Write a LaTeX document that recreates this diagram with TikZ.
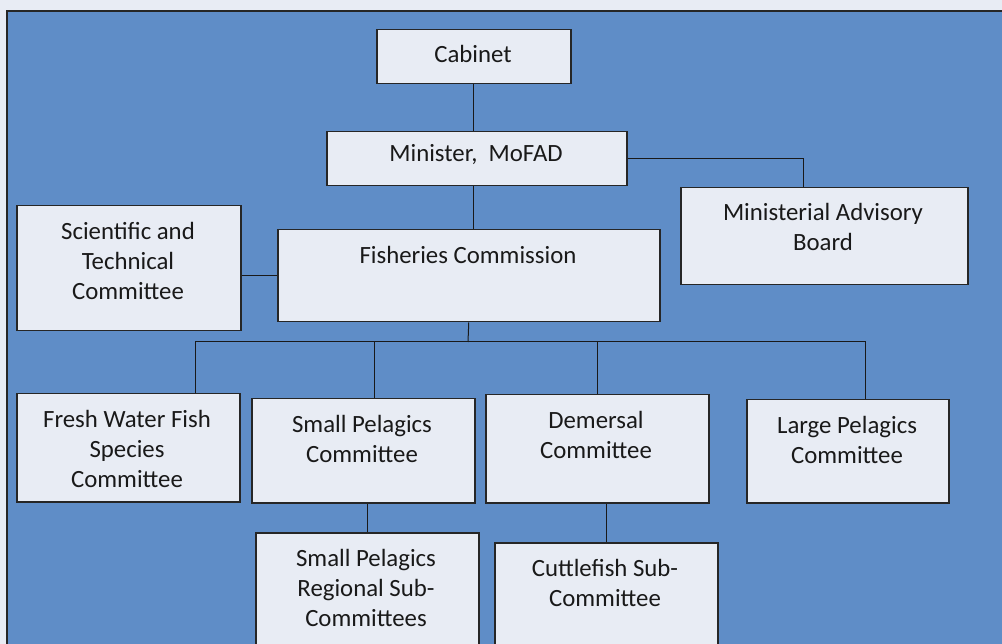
\documentclass[tikz,border=0pt]{standalone}
\usepackage{fontspec}
\setmainfont{Carlito}
\usepackage{tikz}
\definecolor{pagegray}{HTML}{E8ECF4}
\definecolor{chartblue}{HTML}{5F8DC7}
\definecolor{boxfill}{HTML}{E8ECF4}
\definecolor{edgegray}{HTML}{262626}

\begin{document}
\begin{tikzpicture}[x=1pt, y=-1pt,
        box/.style={rectangle, draw=edgegray, line width=1.5pt, fill=boxfill, inner sep=0pt, anchor=north west},
        lbl/.style={font=\fontsize{24.8}{30}\selectfont, align=center, text=black!90, inner sep=0pt},
        link/.style={draw=black!90, line width=1pt}]
        % Page and panel
        \clip (0,0) rectangle (1002,644);
        \fill[pagegray] (0,0) rectangle (1002,644);
        \fill[chartblue] (7,11) rectangle (1012,660);
        \draw[edgegray, line width=2pt] (7,660) -- (7,11) -- (1012,11);
        % Boxes
        \node[box, minimum width=194, minimum height=54] (cab) at (376,29) {};
        \node[box, minimum width=300, minimum height=54] (min) at (326,131) {};
        \node[box, minimum width=382, minimum height=92] (fc) at (277,229) {};
        \node[box, minimum width=287, minimum height=97] (adv) at (680,187) {};
        \node[box, minimum width=224, minimum height=125] (sci) at (16,205) {};
        \node[box, minimum width=223, minimum height=108] (fw) at (16,393) {};
        \node[box, minimum width=223, minimum height=104] (sp) at (251,398) {};
        \node[box, minimum width=223, minimum height=108] (dm) at (485,394) {};
        \node[box, minimum width=202, minimum height=103] (lp) at (746,399) {};
        \node[box, minimum width=223, minimum height=140] (spr) at (255,532) {};
        \node[box, minimum width=223, minimum height=130] (cf) at (494,542) {};
        % Labels
        \node[lbl] (cabtxt) at (473,54) {Cabinet};
        \node[lbl] (mintxt) at (476,155) {Minister,~ MoFAD};
        \node[lbl] (fctxt) at (468,255) {Fisheries Commission};
        \node[lbl] (advtxt) at (823,227) {Ministerial Advisory\\Board};
        \node[lbl] (scitxt) at (128,261) {Scientific and\\Technical\\Committee};
        \node[lbl] (fwtxt) at (127,449) {Fresh Water Fish\\Species\\Committee};
        \node[lbl] (sptxt) at (362,439) {Small Pelagics\\Committee};
        \node[lbl] (dmtxt) at (596,435) {Demersal\\Committee};
        \node[lbl] (lptxt) at (847,440) {Large Pelagics\\Committee};
        \node[lbl] (sprtxt) at (366,588) {Small Pelagics\\Regional Sub-\\Committees};
        \node[lbl] (cftxt) at (605,583) {Cuttlefish Sub-\\Committee};
        % Connectors
        \draw[link] (cab.south) -- (cab.south |- min.north);
        \draw[link] (cab.south |- min.south) -- (cab.south |- fc.north);
        \draw[link] (min.east) -| ([xshift=-20.5]adv.north);
        \draw[link] (fc.west) -- (fc.west -| sci.east);
        \coordinate (bus) at (468,342);
        \draw[link] (fc.south) -- (bus);
        \foreach \n/\dx in {fw/67.5, sp/11.5, dm/0, lp/18} {
            \draw[link] ([xshift=\dx]\n.north) |- (bus);
        }
        \draw[link] (spr.north) -- (spr.north |- sp.south);
        \draw[link] (cf.north) -- (cf.north |- dm.south);
    \end{tikzpicture}
\end{document}
